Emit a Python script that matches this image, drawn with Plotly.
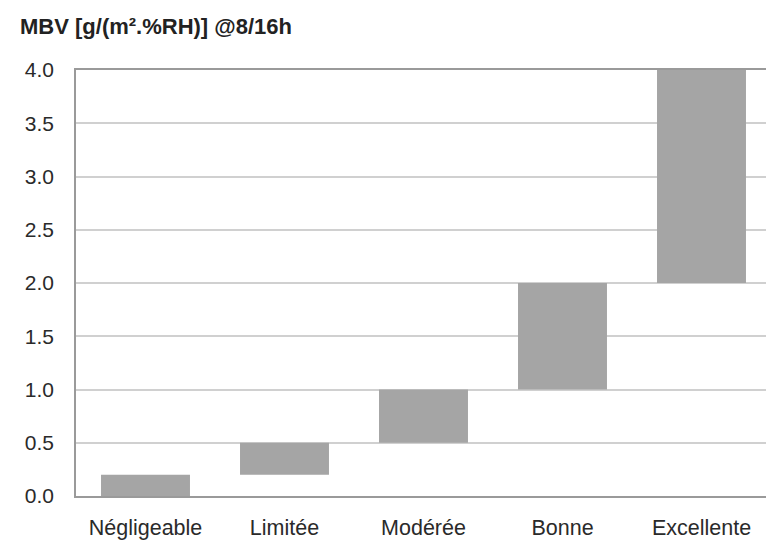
import plotly.graph_objects as go

categories = ["Négligeable", "Limitée", "Modérée", "Bonne", "Excellente"]
lower = [0.0, 0.2, 0.5, 1.0, 2.0]
upper = [0.2, 0.5, 1.0, 2.0, 4.0]
heights = [u - l for u, l in zip(upper, lower)]
y_ticks = [0.0, 0.5, 1.0, 1.5, 2.0, 2.5, 3.0, 3.5, 4.0]
title_text = "MBV [g/(m².%RH)] @8/16h"

# page body has an 8px margin, so the figure is sized to fit the window
W, H = 766, 532
L, R, T, B = 68, 3, 62, 44
pw, ph = W - L - R, H - T - B

fig = go.Figure()
fig.add_trace(go.Bar(
    x=categories, y=heights, base=lower,
    marker=dict(color="#a5a5a5", line=dict(width=0)),
    width=0.64,
))

fig.update_layout(
    width=W, height=H,
    margin=dict(l=L, r=R, t=T, b=B),
    paper_bgcolor="white", plot_bgcolor="white",
    font=dict(family="Liberation Sans, Arial, sans-serif", color="#222222"),
    showlegend=False,
)
fig.update_xaxes(
    showline=True, linecolor="#9a9a9a", linewidth=1.5, mirror=True,
    tickfont=dict(size=21.5, color="#2a2a2a"),
    ticks="", ticklabelstandoff=11,
    showgrid=False, automargin=False,
)
fig.update_yaxes(
    range=[0, 4.0], tickvals=y_ticks, ticktext=[f"{v:.1f}" for v in y_ticks],
    showline=True, linecolor="#9a9a9a", linewidth=1.5, mirror=True,
    showgrid=True, gridcolor="#d0d0d0", gridwidth=1.5,
    tickfont=dict(size=21, color="#2a2a2a"),
    ticks="", ticklabelstandoff=16,
    zeroline=False, automargin=False,
)
fig.add_annotation(
    text="<b>" + title_text + "</b>", xref="paper", yref="paper",
    x=(10 - L) / pw, y=1 + (T - 18) / ph, xanchor="left", yanchor="middle",
    showarrow=False, font=dict(size=22, color="#222222",
                               family="Liberation Sans, Arial, sans-serif"),
)
fig.write_html("out.html")
